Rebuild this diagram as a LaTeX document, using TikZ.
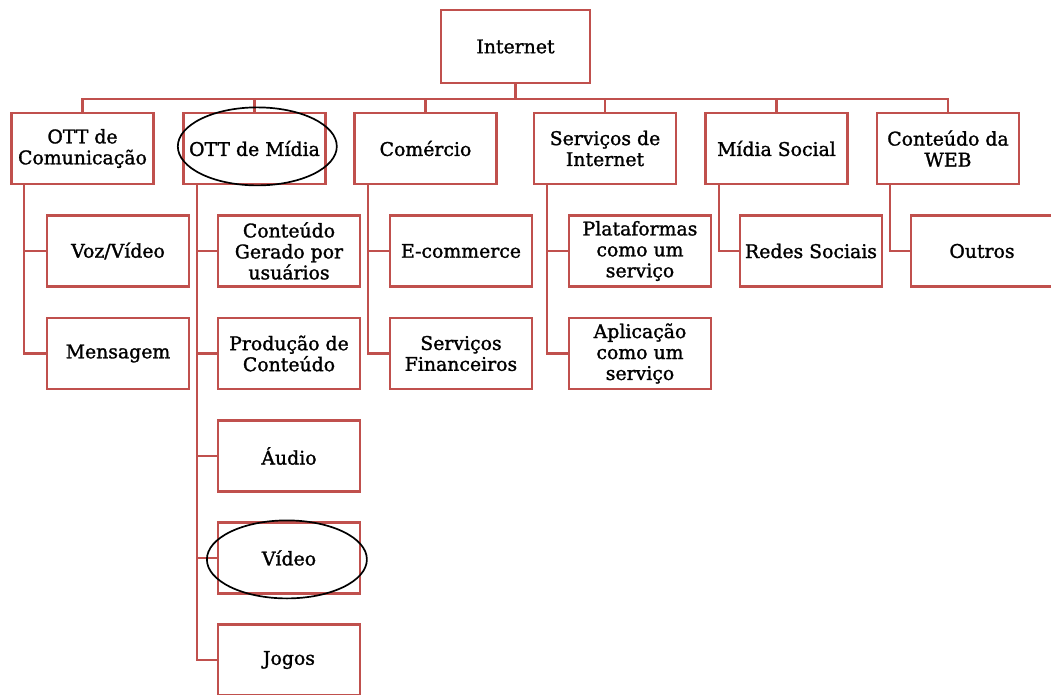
\documentclass[tikz,border=0pt]{standalone}
\usepackage{fontspec}
\setmainfont{DejaVu Serif}[FakeBold=1.4]
\usetikzlibrary{positioning, shapes.geometric}
\definecolor{BoxRed}{RGB}{192,80,77}

\begin{document}
\begin{tikzpicture}[x=0.025cm, y=-0.025cm,
    box/.style={draw=BoxRed, line width=1.6pt, minimum width=3.55cm, minimum height=1.78cm,
                align=center, inner sep=1pt, font=\fontsize{13.4}{14.9}\selectfont},
    link/.style={draw=BoxRed, line width=1.6pt},
    ring/.style={draw=black, line width=1.2pt}]
    \useasboundingbox (0,0) rectangle (1051,695);

    % Top
    \node[box, minimum width=3.72cm, minimum height=1.83cm] (net) at (515.5,46.5) {Internet};

    % First level
    \node[box] (comm) at (82.5,148.5) {OTT de\\Comunicação};
    \node[box] (midia) at (254.5,148.5) {OTT de Mídia};
    \node[box] (comerc) at (425.5,148.5) {Comércio};
    \node[box] (serv) at (605,148.5) {Serviços de\\Internet};
    \node[box] (social) at (776.5,148.5) {Mídia Social};
    \node[box] (web) at (948,148.5) {Conteúdo da\\WEB};

    \foreach \n in {comm, midia, comerc, serv, social, web}
        \draw[link] (net.south) -- ++(0,15) -| (\n.north);

    % OTT de Comunicacao
    \node[box] (voz) at (118,251) {Voz/Vídeo};
    \node[box] (msg) at (118,353.5) {Mensagem};

    % OTT de Midia
    \node[box] (ugc) at (289,251) {Conteúdo\\Gerado por\\usuários};
    \node[box] (prod) at (289,353.5) {Produção de\\Conteúdo};
    \node[box] (audio) at (289,456) {Áudio};
    \node[box] (video) at (289,558) {Vídeo};
    \node[box] (jogos) at (289,660) {Jogos};

    % Comercio
    \node[box] (ecom) at (461,251) {E-commerce};
    \node[box] (fin) at (461,353.5) {Serviços\\Financeiros};

    % Servicos de Internet
    \node[box] (paas) at (640,251) {Plataformas\\como um\\serviço};
    \node[box] (saas) at (640,353.5) {Aplicação\\como um\\serviço};

    % Midia Social / Conteudo da WEB
    \node[box] (redes) at (811,251) {Redes Sociais};
    \node[box] (outros) at (982,251) {Outros};

    \draw[link] ([xshift=0.34cm]comm.south west) |- (voz.west);
    \draw[link] ([xshift=0.34cm]comm.south west) |- (msg.west);
    \foreach \c in {ugc, prod, audio, video, jogos}
        \draw[link] ([xshift=0.37cm]midia.south west) |- (\c.west);
    \draw[link] ([xshift=0.37cm]comerc.south west) |- (ecom.west);
    \draw[link] ([xshift=0.37cm]comerc.south west) |- (fin.west);
    \draw[link] ([xshift=0.35cm]serv.south west) |- (paas.west);
    \draw[link] ([xshift=0.35cm]serv.south west) |- (saas.west);
    \draw[link] ([xshift=0.37cm]social.south west) |- (redes.west);
    \draw[link] ([xshift=0.35cm]web.south west) |- (outros.west);

    % highlights
    \draw[ring] ([xshift=2,yshift=1.5]midia.center) ellipse [x radius=79.5, y radius=39];
    \draw[ring] ([xshift=-1.5,yshift=-1]video.center) ellipse [x radius=80, y radius=39];
\end{tikzpicture}
\end{document}
